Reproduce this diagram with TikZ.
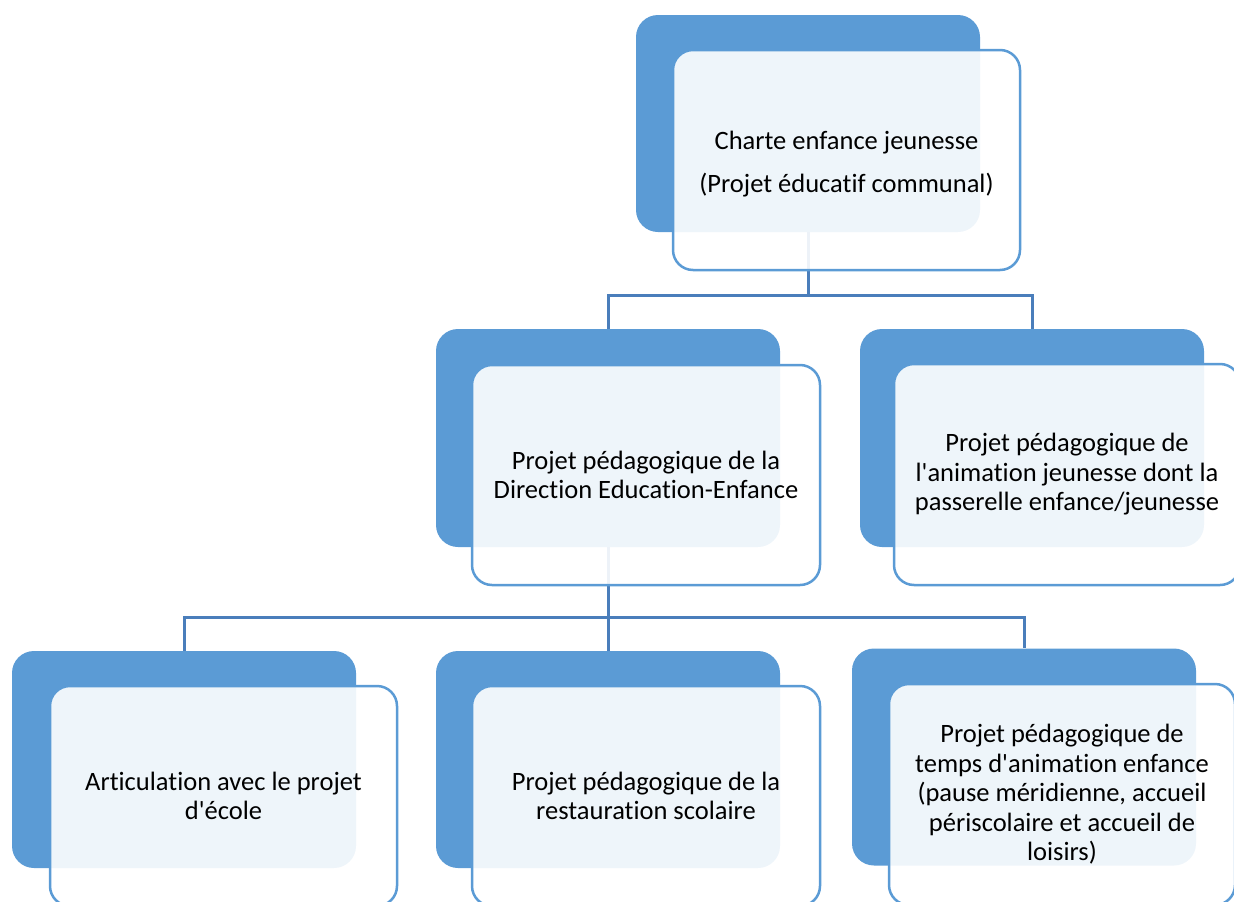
\documentclass[tikz,border=0pt]{standalone}
\usepackage{fontspec}
\setmainfont{Carlito}[Ligatures={TeXOff,NoCommon}]
\definecolor{backblue}{HTML}{5B9BD5}
\definecolor{connblue}{HTML}{4A7EBB}
\begin{document}
\begin{tikzpicture}[x=1pt,y=-1pt,
  backbox/.style={draw=none,fill=backblue,rounded corners=22pt,inner sep=0pt},
  frontbox/.style={draw=backblue,line width=2.5pt,fill=white,fill opacity=0.9,text opacity=1,
    rounded corners=20pt,inner sep=0pt,align=center,font=\fontsize{26.5}{29.5}\selectfont},
  conn/.style={draw=connblue,line width=3pt}]
\useasboundingbox (0,0) rectangle (1234,902);
\clip (0,0) rectangle (1234,902);
% back boxes
\node[backbox,minimum width=344pt,minimum height=217pt] (b1) at (808,123.5) {};
\node[backbox,minimum width=344pt,minimum height=218pt] (b2) at (608,438) {};
\node[backbox,minimum width=344pt,minimum height=218pt] (b3) at (1032,438) {};
\node[backbox,minimum width=344pt,minimum height=217pt] (b4) at (184,759.5) {};
\node[backbox,minimum width=344pt,minimum height=217pt] (b5) at (608,759.5) {};
\node[backbox,minimum width=344pt,minimum height=217pt] (b6) at (1024,757) {};
% connectors
\coordinate (j1) at (808,295);
\coordinate (j2) at (608,617);
\draw[conn] (b1.south) -- (j1);
\draw[conn] (j1) -| (b2.north);
\draw[conn] (j1) -| (b3.north);
\draw[conn] (b2.south) -- (j2);
\draw[conn] (j2) -| (b4.north);
\draw[conn] (j2) -- (b5.north);
\draw[conn] (j2) -| (b6.north);
% front boxes
\node[frontbox,minimum width=347pt,minimum height=220pt] (f1) at (846.5,160) {};
\node at (846.5,164) [align=center,font=\fontsize{26.5}{29.5}\selectfont,inner sep=0pt] (t1)
  {Charte enfance jeunesse\\[13pt](Projet éducatif communal)};
\node[frontbox,minimum width=348pt,minimum height=220pt] (f2) at (646,475)
  {Projet pédagogique de la\\Direction Education-Enfance};
\node[frontbox,minimum width=346pt,minimum height=221pt] (f3) at (1067,474.5)
  {Projet pédagogique de\\l'animation jeunesse dont la\\passerelle enfance/jeunesse};
\node[frontbox,minimum width=347pt,minimum height=220pt] (f4) at (223.5,796)
  {Articulation avec le projet\\d'école};
\node[frontbox,minimum width=348pt,minimum height=220pt] (f5) at (646,796)
  {Projet pédagogique de la\\restauration scolaire};
\node[frontbox,minimum width=346pt,minimum height=221pt] (f6) at (1062,794.5)
  {Projet pédagogique de\\temps d'animation enfance\\(pause méridienne, accueil\\périscolaire et accueil de\\loisirs)};
\end{tikzpicture}
\end{document}
